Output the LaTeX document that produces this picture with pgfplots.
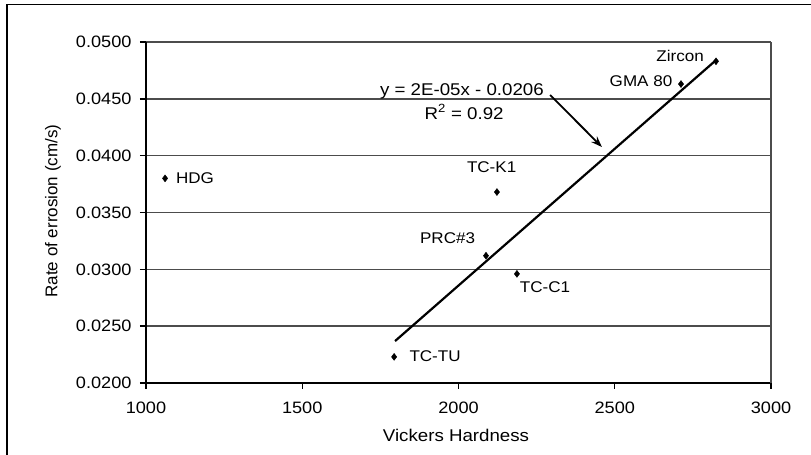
\documentclass[border=0pt]{standalone}
\usepackage{fontspec}
\setmainfont{Liberation Sans}[FakeStretch=1.1]
\newfontfamily\uprightlabel{Liberation Sans}
\usepackage{pgfplots}
\pgfplotsset{compat=1.18}
\usetikzlibrary{arrows.meta}

% Hardness / erosion measurements
\pgfplotstableread{
x     y
1061  0.0380
2123  0.0368
2824  0.0483
2712  0.0463
2088  0.0312
2187  0.0296
1794  0.0223
}\erosion

\begin{document}
\begin{tikzpicture}[x=1bp,y=1bp,font=\fontsize{15.5bp}{18bp}\selectfont]
\path[use as bounding box] (-146,-72) rectangle (665,383);
% outer frame
\draw[line width=1.5bp] (-139,-90) -- (-139,378.5) -- (680,378.5);
\begin{axis}[
  at={(0,0)}, anchor=south west,
  scale only axis, width=625bp, height=341bp,
  xmin=1000, xmax=3000, ymin=0.02, ymax=0.05,
  xtick={1000,1500,2000,2500,3000},
  ytick={0.02,0.025,0.03,0.035,0.04,0.045,0.05},
  scaled y ticks=false, scaled x ticks=false,
  axis x line*=bottom, axis y line*=left,
  axis line style={line width=1.6bp, black},
  tick align=outside, major tick length=6bp,
  tick style={line width=1.4bp, black},
  ymajorgrids, grid style={line width=1.5bp, black!70},
  /pgf/number format/assume math mode=true,
  tick label style={font=\fontsize{16.5bp}{19bp}\selectfont},
  xticklabel style={/pgf/number format/set thousands separator={}, yshift=-9bp},
  yticklabel style={/pgf/number format/fixed, /pgf/number format/fixed zerofill,
                    /pgf/number format/precision=4, xshift=-5bp},
  xlabel={Vickers Hardness},
  ylabel={Rate of errosion (cm/s)},
  every axis x label/.style={at={(axis description cs:0.496,-0.1525)}, anchor=center,
                             font=\fontsize{17bp}{20bp}\selectfont},
  every axis y label/.style={at={(axis description cs:-0.149,0.504)}, anchor=center, rotate=90,
                             font=\uprightlabel\fontsize{17bp}{20bp}\selectfont},
  clip=false,
]
% right border of the plot area
\draw[line width=1.5bp, black!70] (axis cs:3000,0.02) -- (axis cs:3000,0.05);
% measured points
\addplot[only marks, mark=diamond*, mark size=3.5bp, black] table[x=x, y=y] {\erosion};
% linear trend line
\addplot[black, line width=2.2bp] coordinates {(1797,0.02369) (2821,0.04833)};
% point labels
\node at (axis cs:1157,0.03803) {HDG};
\node at (axis cs:2106,0.0390) {TC-K1};
\node at (axis cs:2709,0.04877) {Zircon};
\node at (axis cs:2584,0.04657) {GMA 80};
\node at (axis cs:1965,0.03276) {PRC\#3};
\node at (axis cs:2277,0.02844) {TC-C1};
\node at (axis cs:1925,0.02237) {TC-TU};
% trend equation with pointer
\begin{scope}[font=\fontsize{17bp}{20bp}\selectfont]
\node at (axis cs:2011,0.04566) {y = 2E-05x - 0.0206};
\node at (axis cs:2018,0.04384) {R\textsuperscript{2} = 0.92};
\end{scope}
\draw[line width=1.8bp, -{Stealth[length=11bp,width=8bp]}] (axis cs:2293,0.04534) -- (axis cs:2459,0.04076);
\end{axis}
\end{tikzpicture}
\end{document}
